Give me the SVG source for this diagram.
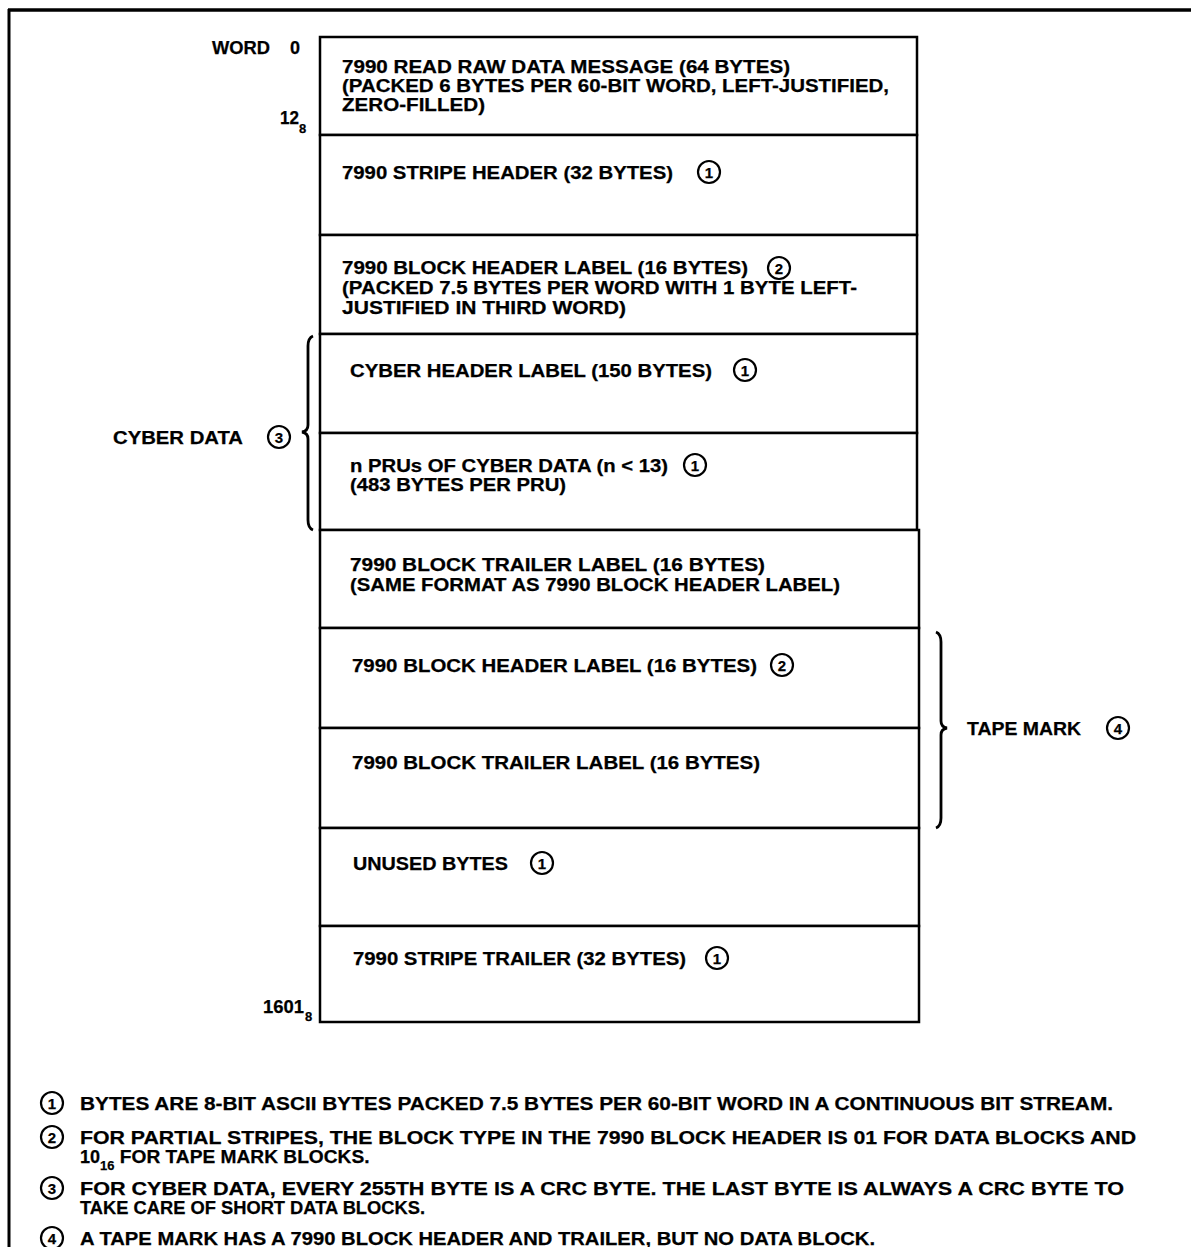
<svg xmlns="http://www.w3.org/2000/svg" width="1191" height="1247" viewBox="0 0 1191 1247">
<style>
text{font-family:"Liberation Sans",Arial,sans-serif;font-weight:bold;font-size:18px;fill:#000;stroke:#000;stroke-width:0.25}
.sub{font-size:13px}
.box{fill:#fff;stroke:#000;stroke-width:2.5}
.circ{fill:none;stroke:#000;stroke-width:2.2}
.cn{font-size:15px;text-anchor:middle}
.br{fill:none;stroke:#000;stroke-width:2.8}
</style>
<rect width="1191" height="1247" fill="#fff"/>
<g id="frame">
<line x1="8" y1="10" x2="1191" y2="10" stroke="#000" stroke-width="3.5"/>
<line x1="9" y1="9" x2="9" y2="1247" stroke="#000" stroke-width="3"/>
</g>
<g id="word-labels">
<text x="212" y="54" textLength="58" lengthAdjust="spacingAndGlyphs">WORD</text><text x="290" y="54">0</text>
<text x="280" y="124" textLength="19" lengthAdjust="spacingAndGlyphs">12</text><text class="sub" x="299" y="133">8</text>
<text x="263" y="1013" textLength="41" lengthAdjust="spacingAndGlyphs">1601</text><text class="sub" x="305" y="1021">8</text>
</g>
<g id="n1">
<rect class="box" x="320" y="37" width="597" height="98"/>
<text x="342" y="73" textLength="448" lengthAdjust="spacingAndGlyphs">7990 READ RAW DATA MESSAGE (64 BYTES)</text>
<text x="342" y="92" textLength="547" lengthAdjust="spacingAndGlyphs">(PACKED 6 BYTES PER 60-BIT WORD, LEFT-JUSTIFIED,</text>
<text x="342" y="111" textLength="143" lengthAdjust="spacingAndGlyphs">ZERO-FILLED)</text>
</g>
<g id="n2">
<rect class="box" x="320" y="135" width="597" height="100"/>
<text x="342" y="179" textLength="331" lengthAdjust="spacingAndGlyphs">7990 STRIPE HEADER (32 BYTES)</text>
<circle class="circ" cx="709" cy="172" r="11"/><text class="cn" x="709" y="178">1</text>
</g>
<g id="n3">
<rect class="box" x="320" y="235" width="597" height="99"/>
<text x="342" y="274" textLength="406" lengthAdjust="spacingAndGlyphs">7990 BLOCK HEADER LABEL (16 BYTES)</text>
<circle class="circ" cx="779" cy="268" r="11"/><text class="cn" x="779" y="274">2</text>
<text x="342" y="294" textLength="515" lengthAdjust="spacingAndGlyphs">(PACKED 7.5 BYTES PER WORD WITH 1 BYTE LEFT-</text>
<text x="342" y="314" textLength="284" lengthAdjust="spacingAndGlyphs">JUSTIFIED IN THIRD WORD)</text>
</g>
<g id="n4">
<rect class="box" x="320" y="334" width="597" height="99"/>
<text x="350" y="377" textLength="362" lengthAdjust="spacingAndGlyphs">CYBER HEADER LABEL (150 BYTES)</text>
<circle class="circ" cx="745" cy="370" r="11"/><text class="cn" x="745" y="376">1</text>
</g>
<g id="n5">
<rect class="box" x="320" y="433" width="597" height="97"/>
<text x="350" y="472" textLength="318" lengthAdjust="spacingAndGlyphs">n PRUs OF CYBER DATA (n &lt; 13)</text>
<circle class="circ" cx="695" cy="465" r="11"/><text class="cn" x="695" y="471">1</text>
<text x="350" y="491" textLength="216" lengthAdjust="spacingAndGlyphs">(483 BYTES PER PRU)</text>
</g>
<g id="n6">
<rect class="box" x="320" y="530" width="599" height="98"/>
<text x="350" y="571" textLength="415" lengthAdjust="spacingAndGlyphs">7990 BLOCK TRAILER LABEL (16 BYTES)</text>
<text x="350" y="591" textLength="490" lengthAdjust="spacingAndGlyphs">(SAME FORMAT AS 7990 BLOCK HEADER LABEL)</text>
</g>
<g id="n7">
<rect class="box" x="320" y="628" width="599" height="100"/>
<text x="352" y="672" textLength="405" lengthAdjust="spacingAndGlyphs">7990 BLOCK HEADER LABEL (16 BYTES)</text>
<circle class="circ" cx="782" cy="665" r="11"/><text class="cn" x="782" y="671">2</text>
</g>
<g id="n8">
<rect class="box" x="320" y="728" width="599" height="100"/>
<text x="352" y="769" textLength="408" lengthAdjust="spacingAndGlyphs">7990 BLOCK TRAILER LABEL (16 BYTES)</text>
</g>
<g id="n9">
<rect class="box" x="320" y="828" width="599" height="98"/>
<text x="353" y="870" textLength="155" lengthAdjust="spacingAndGlyphs">UNUSED BYTES</text>
<circle class="circ" cx="542" cy="863" r="11"/><text class="cn" x="542" y="869">1</text>
</g>
<g id="n10">
<rect class="box" x="320" y="926" width="599" height="96"/>
<text x="353" y="965" textLength="333" lengthAdjust="spacingAndGlyphs">7990 STRIPE TRAILER (32 BYTES)</text>
<circle class="circ" cx="717" cy="958" r="11"/><text class="cn" x="717" y="964">1</text>
</g>
<g id="connectors">
<path class="br" d="M313,336 Q308,338 308,346 L308,425 Q308,431 302,432 Q308,433 308,439 L308,520 Q308,528 313,530"/>
<path class="br" d="M936,632 Q941,634 941,642 L941,721 Q941,727 947,728 Q941,729 941,735 L941,818 Q941,826 936,828"/>
</g>
<g id="cyber-data-label">
<text x="113" y="444" textLength="130" lengthAdjust="spacingAndGlyphs">CYBER DATA</text>
<circle class="circ" cx="279" cy="437" r="11"/><text class="cn" x="279" y="443">3</text>
</g>
<g id="tape-mark-label">
<text x="967" y="735" textLength="114" lengthAdjust="spacingAndGlyphs">TAPE MARK</text>
<circle class="circ" cx="1118" cy="728" r="11"/><text class="cn" x="1118" y="734">4</text>
</g>
<g id="notes">
<circle class="circ" cx="52" cy="1103" r="11"/><text class="cn" x="52" y="1109">1</text>
<text x="80" y="1110" textLength="1033" lengthAdjust="spacingAndGlyphs">BYTES ARE 8-BIT ASCII BYTES PACKED 7.5 BYTES PER 60-BIT WORD IN A CONTINUOUS BIT STREAM.</text>
<circle class="circ" cx="52" cy="1137" r="11"/><text class="cn" x="52" y="1143">2</text>
<text x="80" y="1144" textLength="1056" lengthAdjust="spacingAndGlyphs">FOR PARTIAL STRIPES, THE BLOCK TYPE IN THE 7990 BLOCK HEADER IS 01 FOR DATA BLOCKS AND</text>
<text x="80" y="1163">10<tspan class="sub" dy="7">16</tspan><tspan dy="-7" textLength="255" lengthAdjust="spacingAndGlyphs"> FOR TAPE MARK BLOCKS.</tspan></text>
<circle class="circ" cx="52" cy="1188" r="11"/><text class="cn" x="52" y="1194">3</text>
<text x="80" y="1195" textLength="1044" lengthAdjust="spacingAndGlyphs">FOR CYBER DATA, EVERY 255TH BYTE IS A CRC BYTE.  THE LAST BYTE IS ALWAYS A CRC BYTE TO</text>
<text x="80" y="1214" textLength="345" lengthAdjust="spacingAndGlyphs">TAKE CARE OF SHORT DATA BLOCKS.</text>
<circle class="circ" cx="52" cy="1238" r="11"/><text class="cn" x="52" y="1244">4</text>
<text x="80" y="1245" textLength="795" lengthAdjust="spacingAndGlyphs">A TAPE MARK HAS A 7990 BLOCK HEADER AND TRAILER, BUT NO DATA BLOCK.</text>
</g>
</svg>
